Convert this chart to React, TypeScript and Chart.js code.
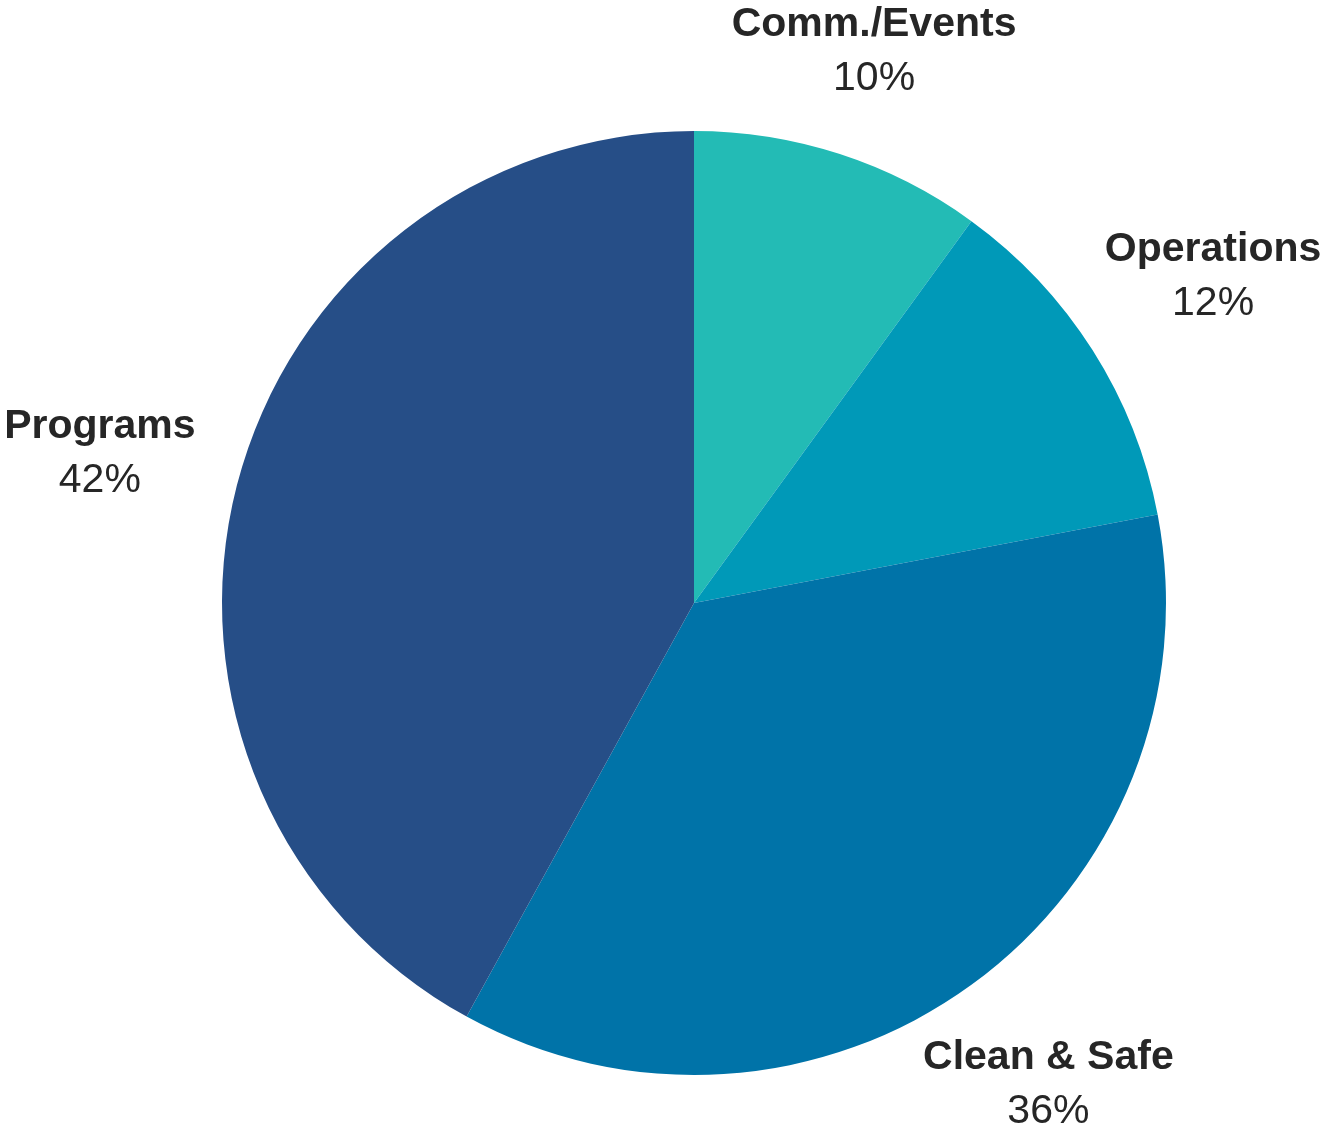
import React, { useEffect, useRef } from "react";
import { Chart, registerables } from "chart.js";

Chart.register(...registerables);

const categories = ["Comm./Events", "Operations", "Clean & Safe", "Programs"];
const shares = [10, 12, 36, 42];
const sliceColors = ["#23BBB5", "#0099B8", "#0073A8", "#264E87"];

const TEXT_COLOR = "#262626";
const FONT_FAMILY = '"Liberation Sans", Arial, sans-serif';
const FONT_SIZE = 41;
const LINE_GAP = 54;
const LABEL_GAP = 48;
const BOX_HALF_H = 47;

const outsideLabels = {
  id: "outsideLabels",
  afterDatasetsDraw(chart: any) {
    const ctx = chart.ctx;
    const meta = chart.getDatasetMeta(0);
    const data = chart.data.datasets[0].data as number[];
    const total = data.reduce((a, b) => a + b, 0);
    ctx.save();
    ctx.fillStyle = TEXT_COLOR;
    ctx.textAlign = "center";
    ctx.textBaseline = "alphabetic";
    const capMid = FONT_SIZE * 0.358;
    meta.data.forEach((arc: any, i: number) => {
      const p = arc.getProps(["x", "y", "startAngle", "endAngle", "outerRadius"], true);
      const mid = (p.startAngle + p.endAngle) / 2;
      const ux = Math.cos(mid);
      const uy = Math.sin(mid);
      const name = String(chart.data.labels[i]);
      const pct = Math.round((data[i] / total) * 100) + "%";
      ctx.font = `bold ${FONT_SIZE}px ${FONT_FAMILY}`;
      const w1 = ctx.measureText(name).width;
      ctx.font = `${FONT_SIZE}px ${FONT_FAMILY}`;
      const w2 = ctx.measureText(pct).width;
      const hw = Math.max(w1, w2) / 2;
      const R = p.outerRadius + LABEL_GAP + Math.sqrt((hw * ux) ** 2 + (BOX_HALF_H * uy) ** 2);
      let cx = p.x + R * ux;
      let cy = p.y + R * uy;
      cx = Math.max(hw, Math.min(chart.width - hw, cx));
      const topLimit = LINE_GAP / 2 + capMid + 4;
      const bottomLimit = chart.height - 4 - LINE_GAP / 2 - capMid;
      cy = Math.max(topLimit, Math.min(bottomLimit, cy));
      ctx.font = `bold ${FONT_SIZE}px ${FONT_FAMILY}`;
      ctx.fillText(name, cx, cy - LINE_GAP / 2 + capMid);
      ctx.font = `${FONT_SIZE}px ${FONT_FAMILY}`;
      ctx.fillText(pct, cx, cy + LINE_GAP / 2 + capMid);
    });
    ctx.restore();
  },
};

export default function App() {
  const ref = useRef<HTMLCanvasElement | null>(null);
  useEffect(() => {
    if (!ref.current) return;
    const chart = new Chart(ref.current, {
      type: "pie",
      data: {
        labels: categories,
        datasets: [
          {
            data: shares,
            backgroundColor: sliceColors,
            borderWidth: 0,
            hoverOffset: 0,
            offset: 0,
          },
        ],
      },
      options: {
        responsive: false,
        animation: false,
        events: [],
        layout: { padding: { top: 131, bottom: 52, left: 222, right: 157 } },
        plugins: {
          legend: { display: false },
          tooltip: { enabled: false },
        },
      },
      plugins: [outsideLabels],
    });
    return () => chart.destroy();
  }, []);
  return (
    <div style={{ position: "absolute", left: 0, top: 0, width: 1323, height: 1127, background: "#fff" }}>
      <canvas ref={ref} width={1323} height={1127} style={{ display: "block" }} />
    </div>
  );
}
